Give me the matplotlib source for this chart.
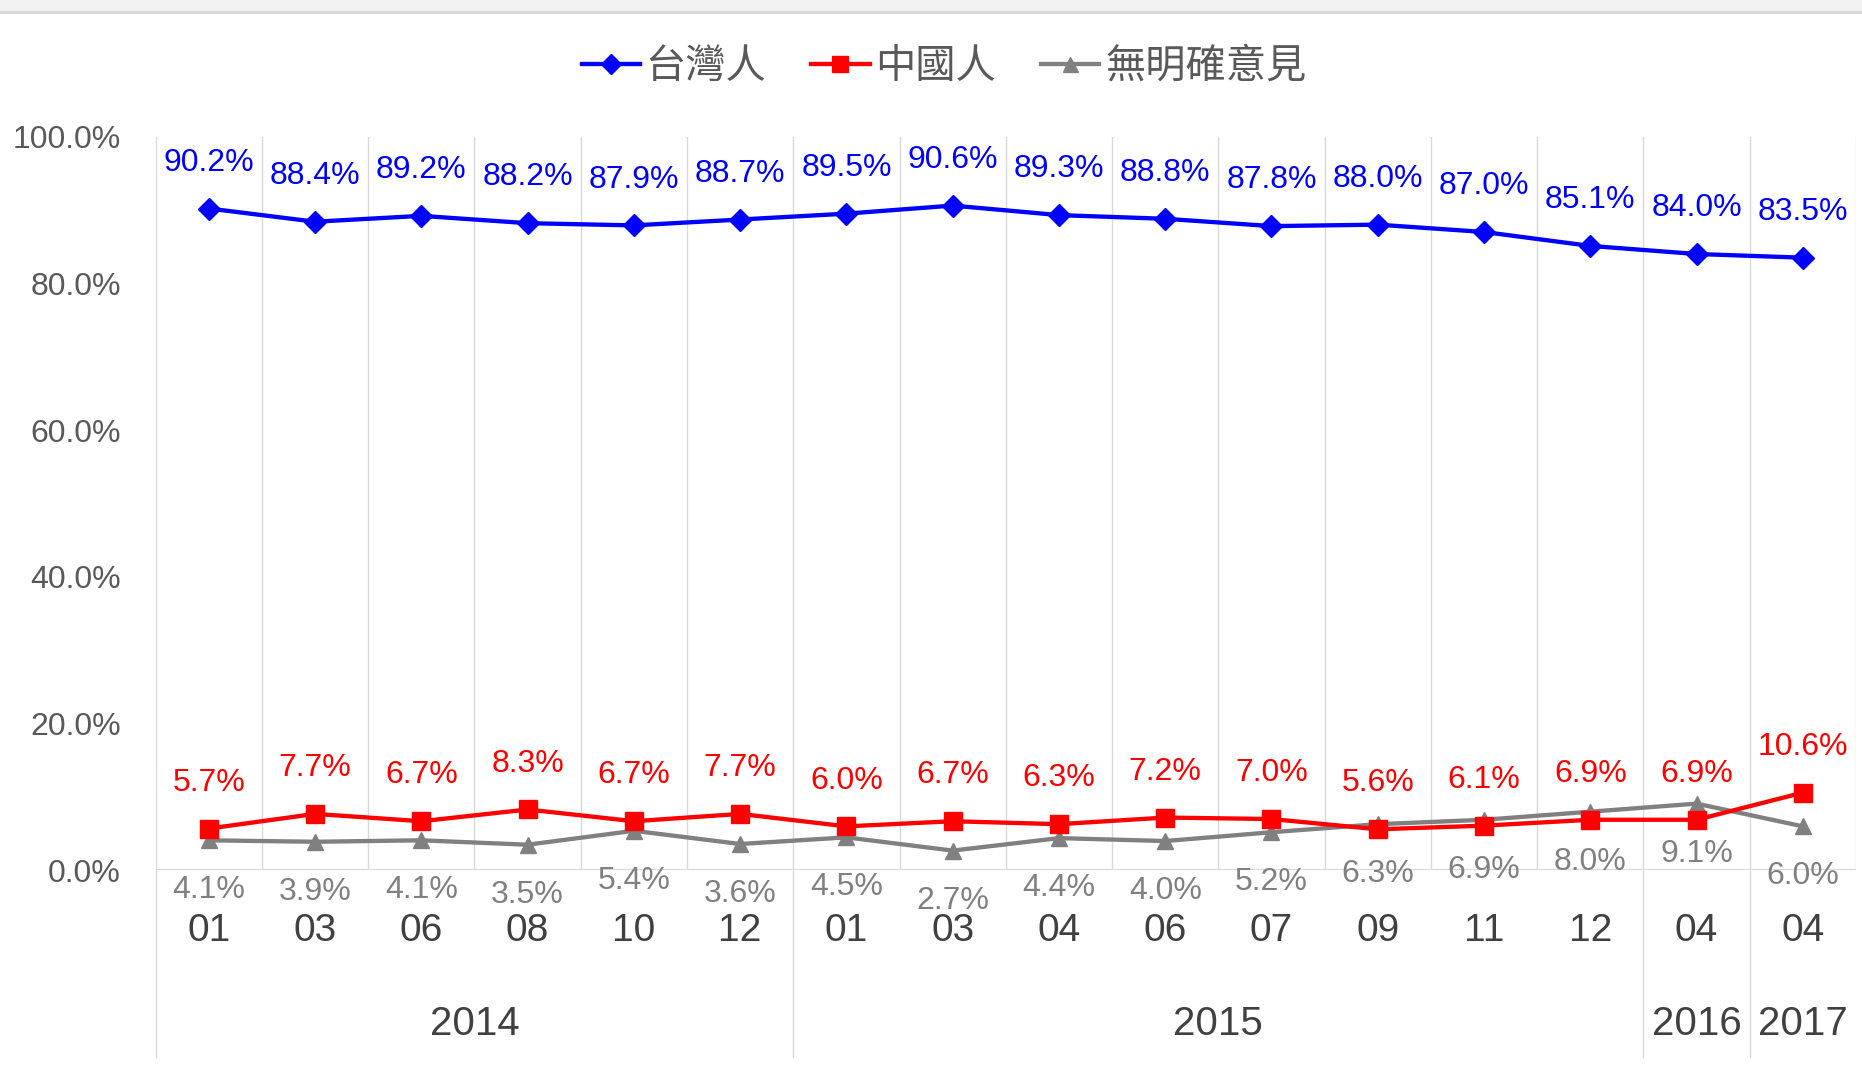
import matplotlib.pyplot as plt
from matplotlib.lines import Line2D
from matplotlib.patches import Rectangle
import matplotlib.transforms as mtransforms

plt.rcParams['font.family'] = ['Liberation Sans', 'Noto Sans CJK TC', 'DejaVu Sans']

# 資料
months = ['01', '03', '06', '08', '10', '12', '01', '03', '04', '06', '07', '09', '11', '12', '04', '04']
years = ['2014', '2015', '2016', '2017']
year_spans = [(0, 5), (6, 13), (14, 14), (15, 15)]
taiwan = [90.2, 88.4, 89.2, 88.2, 87.9, 88.7, 89.5, 90.6, 89.3, 88.8, 87.8, 88.0, 87.0, 85.1, 84.0, 83.5]
china = [5.7, 7.7, 6.7, 8.3, 6.7, 7.7, 6.0, 6.7, 6.3, 7.2, 7.0, 5.6, 6.1, 6.9, 6.9, 10.6]
no_opinion = [4.1, 3.9, 4.1, 3.5, 5.4, 3.6, 4.5, 2.7, 4.4, 4.0, 5.2, 6.3, 6.9, 8.0, 9.1, 6.0]

W, H = 1862, 1066
fig = plt.figure(figsize=(W / 100, H / 100), dpi=100)
ax = fig.add_axes([155.6 / W, 1 - 870.4 / H, (1856 - 155.6) / W, (870.4 - 136.6) / H])

# 上方灰色條
fig.add_artist(Rectangle((0, 1 - 11 / H), 1, 11 / H, transform=fig.transFigure,
                         facecolor='#f2f2f2', edgecolor='none'))
fig.add_artist(Line2D([0, 1], [1 - 12 / H, 1 - 12 / H], transform=fig.transFigure,
                      color='#d6d6d6', lw=2))

x = list(range(len(months)))
grid_c = '#d9d9d9'

# 垂直分隔線
for b in range(len(months) + 1):
    ax.plot([b - 0.5, b - 0.5], [0, 100], color=grid_c, lw=1, zorder=0)
trans = mtransforms.blended_transform_factory(ax.transData, ax.transAxes)
for s, e in year_spans:
    ax.plot([s - 0.5, s - 0.5], [0, -0.254], color=grid_c, lw=1, transform=trans, clip_on=False)
ax.axhline(0, color=grid_c, lw=1.5, zorder=0)

ax.plot(x, taiwan, color='#0000ff', lw=3.1, marker='D', ms=11, label='台灣人', zorder=3)
ax.plot(x, china, color='#ff0000', lw=3.1, marker='s', ms=12.5, label='中國人', zorder=3)
ax.plot(x, no_opinion, color='#808080', lw=3.1, marker='^', ms=12, label='無明確意見', zorder=2)

for i in x:
    ax.annotate(f'{taiwan[i]:.1f}%', (i, taiwan[i]), xytext=(0, 33), textcoords='offset points',
                ha='center', va='center', fontsize=23, color='#0000ff')
    ax.annotate(f'{china[i]:.1f}%', (i, china[i]), xytext=(0, 33), textcoords='offset points',
                ha='center', va='center', fontsize=23, color='#ff0000')
    ax.annotate(f'{no_opinion[i]:.1f}%', (i, no_opinion[i]), xytext=(0, -36), textcoords='offset points',
                ha='center', va='center', fontsize=23, color='#808080')
    ax.text(i, -0.0826, months[i], transform=trans, ha='center', va='center',
            fontsize=28, color='#404040')

for (s, e), yr in zip(year_spans, years):
    ax.text((s + e) / 2, -0.209, yr, transform=trans, ha='center', va='center',
            fontsize=29, color='#404040')

ax.set_xlim(-0.5, len(months) - 0.5)
ax.set_ylim(0, 100)
ax.set_yticks([0, 20, 40, 60, 80, 100])
ax.set_yticklabels([f'{v:.1f}%' for v in [0, 20, 40, 60, 80, 100]])
ax.tick_params(axis='y', length=0, pad=25, labelsize=23, labelcolor='#595959')
ax.set_xticks([])
for sp in ax.spines.values():
    sp.set_visible(False)

fig.legend(loc='center', bbox_to_anchor=(944 / W, 1 - 67 / H), ncol=3, frameon=False,
           fontsize=29, labelcolor='#595959', handlelength=1.45, handletextpad=0.15,
           columnspacing=1.1, markerscale=0.9)

fig.savefig('out.png', dpi=100)
